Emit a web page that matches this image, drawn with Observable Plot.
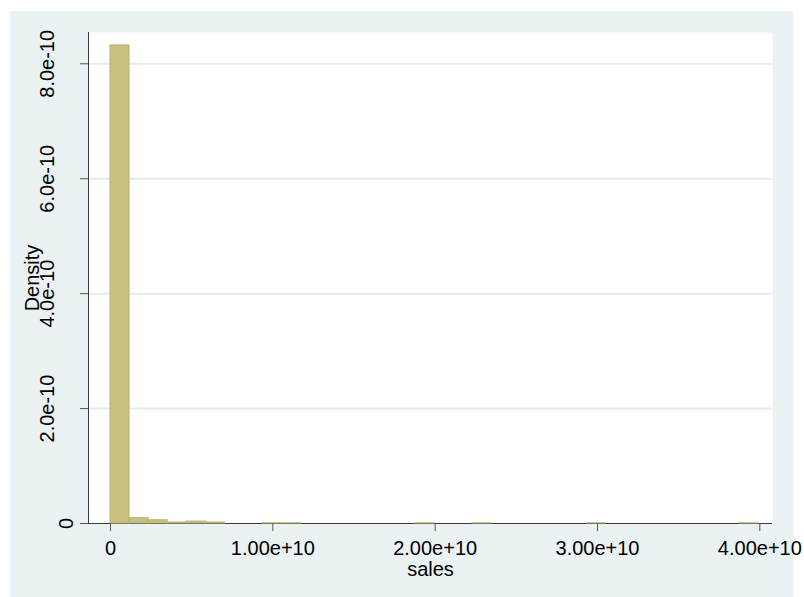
<!DOCTYPE html>
<html>
<head>
<meta charset="utf-8">
<script src="https://cdn.jsdelivr.net/npm/d3@7"></script>
<script src="https://cdn.jsdelivr.net/npm/@observablehq/plot@0.6"></script>
<style>
  html, body { margin: 0; padding: 0; background: #EAF2F3; overflow: hidden; }
  #wrap { position: relative; width: 804px; height: 620px; overflow: hidden; background: #ffffff; }
  #panel { position: absolute; left: 10px; top: 11px; width: 783px; height: 620px; background: #EAF2F3; }
  #chart { position: absolute; left: 0; top: 0; }
  #chart svg { display: block; }
</style>
</head>
<body>
<div id="wrap"><div id="panel"></div><div id="chart"></div></div>
<script>
// Histogram of sales: 34 equal-width bins, heights are densities
const binLow = 0;
const binWidth = 1.174e9;
const densities = [
  8.32e-10, 9.2e-12, 5.7e-12, 1.7e-12, 3.4e-12, 1.7e-12, 0, 0,
  3.4e-13, 3.4e-13, 0, 0, 0, 0, 0, 0,
  3.4e-13, 0, 0, 3.4e-13, 0, 0, 0, 0,
  0, 3.4e-13, 0, 0, 0, 0, 0, 0,
  0, 3.4e-13
];

const xTicks = [0, 1e10, 2e10, 3e10, 4e10];
const xTickLabels = ["0", "1.00e+10", "2.00e+10", "3.00e+10", "4.00e+10"];
const yTicks = [0, 2e-10, 4e-10, 6e-10, 8e-10];
const yTickLabels = ["0", "2.0e-10", "4.0e-10", "6.0e-10", "8.0e-10"];
const xTitle = "sales";
const yTitle = "Density";

const bins = densities.map((d, i) => ({
  x1: binLow + i * binWidth,
  x2: binLow + (i + 1) * binWidth,
  density: d
}));
const xLabelRows = xTicks.map((v, i) => ({value: v, label: xTickLabels[i]}));
const yLabelRows = yTicks.map((v, i) => ({value: v, label: yTickLabels[i]}));

const xDomain = [-1.3553e9, 4.0781e10];
const yDomain = [0, 8.5447e-10];

const axisColor = "#3c3c3c";
const textColor = "#000000";

const chart = Plot.plot({
  width: 804,
  height: 597,
  marginLeft: 88,
  marginRight: 32,
  marginTop: 32,
  marginBottom: 74,
  style: {
    background: "transparent",
    fontFamily: "'Liberation Sans', Arial, Helvetica, sans-serif",
    fontSize: "20px",
    color: textColor
  },
  x: {domain: xDomain},
  y: {domain: yDomain},
  marks: [
    Plot.frame({fill: "white", stroke: null}),
    Plot.ruleY(yTicks.filter(v => v > 0), {stroke: "#E3ECEE", strokeWidth: 2}),
    Plot.ruleX([xDomain[0]], {stroke: axisColor, strokeWidth: 1}),
    Plot.ruleY([0], {stroke: axisColor, strokeWidth: 1}),
    Plot.rectY(bins.filter(d => d.density > 0), {
      x1: "x1", x2: "x2", y: "density",
      fill: "#C8C07E", stroke: "#BDB473", strokeWidth: 1
    }),
    Plot.axisX({ticks: xTicks, tickSize: 8, tickFormat: () => "", label: null, stroke: "#555"}),
    Plot.axisY({ticks: yTicks, tickSize: 8, tickFormat: () => "", label: null, stroke: "#555"}),
    Plot.text(xLabelRows, {
      x: "value", text: "label", frameAnchor: "bottom", lineAnchor: "top",
      dy: 16.8, fontSize: 20, fill: textColor
    }),
    Plot.text(yLabelRows.filter(d => d.value !== 0), {
      y: "value", text: "label", frameAnchor: "left", textAnchor: "middle",
      lineAnchor: "middle", rotate: -90, dx: -40.7, fontSize: 20, fill: textColor
    }),
    Plot.text(yLabelRows.filter(d => d.value === 0), {
      y: "value", text: "label", frameAnchor: "left", textAnchor: "middle",
      lineAnchor: "middle", rotate: -90, dx: -22.4, fontSize: 20, fill: textColor
    }),
    Plot.text([xTitle], {
      frameAnchor: "bottom", lineAnchor: "top", dy: 37.8,
      fontSize: 20, fill: textColor
    }),
    Plot.text([yTitle], {
      frameAnchor: "left", textAnchor: "middle", lineAnchor: "middle",
      rotate: -90, dx: -56.4, fontSize: 20, fill: textColor
    })
  ]
});

document.getElementById("chart").appendChild(chart);
</script>
</body>
</html>
